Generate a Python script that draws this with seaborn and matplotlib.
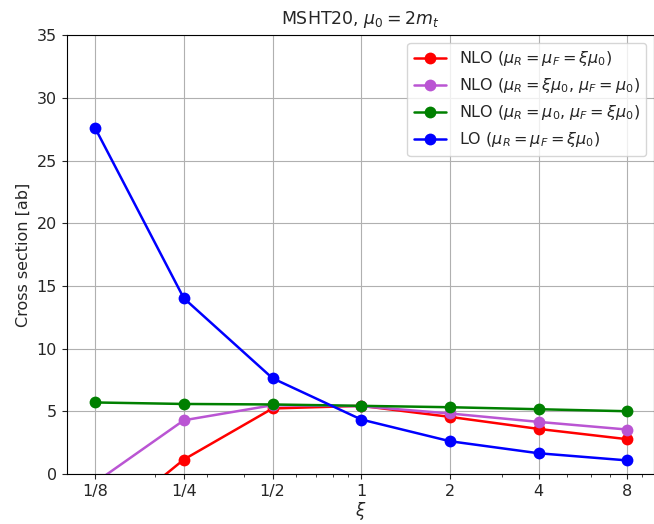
import numpy as np
import pandas as pd
import matplotlib
matplotlib.use("Agg")
import matplotlib.pyplot as plt
import seaborn as sns

# scale factor xi and tick labels
xi = [1/8, 1/4, 1/2, 1, 2, 4, 8]
xi_labels = ["1/8", "1/4", "1/2", "1", "2", "4", "8"]

# cross sections [ab]
nlo_both = [-4.6, 1.17, 5.24, 5.45, 4.57, 3.61, 2.79]
nlo_muR = [-0.67, 4.3, 5.5, 5.42, 4.84, 4.17, 3.56]
nlo_muF = [5.72, 5.6, 5.56, 5.45, 5.34, 5.18, 5.02]
lo_both = [27.6, 14.03, 7.65, 4.36, 2.63, 1.67, 1.1]

series = [
    (nlo_both, "red", r"NLO ($\mu_R = \mu_F = \xi\mu_0$)"),
    (nlo_muR, "mediumorchid", r"NLO ($\mu_R = \xi\mu_0$, $\mu_F = \mu_0$)"),
    (nlo_muF, "green", r"NLO ($\mu_R = \mu_0$, $\mu_F = \xi\mu_0$)"),
    (lo_both, "blue", r"LO ($\mu_R = \mu_F = \xi\mu_0$)"),
]

sns.set_style("ticks", {"axes.edgecolor": "black"})
fig, ax = plt.subplots(figsize=(6.54, 5.24), dpi=100)

for vals, color, label in series:
    df = pd.DataFrame({"xi": xi, "sigma": vals})
    sns.lineplot(data=df, x="xi", y="sigma", ax=ax, color=color, label=label,
                 marker="o", markersize=8.5, markeredgewidth=0, linewidth=1.8)

ax.set_xscale("log")
ax.set_xticks(xi)
ax.set_xticklabels(xi_labels)
ax.set_xlim(2 ** -3.32, 2 ** 3.3)
ax.set_ylim(0, 35)
ax.set_yticks(range(0, 36, 5))
ax.grid(True, which="major", color="#b0b0b0", linewidth=0.8)
ax.set_xlabel(r"$\xi$", fontsize=12, labelpad=1)
ax.set_ylabel("Cross section [ab]", fontsize=11.5)
ax.set_title(r"MSHT20, $\mu_0 = 2m_t$", fontsize=12.5, pad=8)
ax.tick_params(labelsize=11.5)
ax.legend(loc="upper right", fontsize=11.5)

fig.subplots_adjust(left=0.102, right=1.0, top=0.933, bottom=0.095)
plt.savefig("out.png", dpi=100)
